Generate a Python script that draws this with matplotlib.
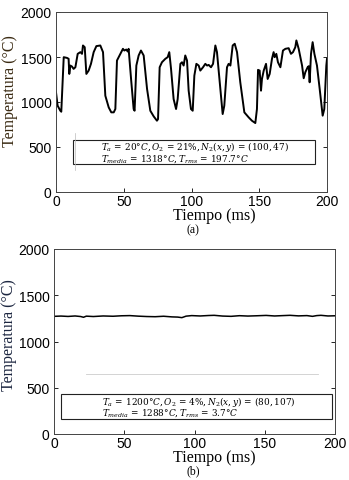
import matplotlib.pyplot as plt
import numpy as np

# panel (a): turbulent signal
t_a = [0, 1.2, 3.2, 3.9, 5.7, 8.1, 9.3, 9.8, 10.6, 11.8, 13, 14.3, 16, 18, 19.2, 19.9,
       21.2, 22.4, 24.1, 25.8, 27.8, 29.8, 32.7, 34.7, 36.4, 38.9, 40.8, 42.6, 43.8, 45,
       47.5, 49.4, 50.4, 51.9, 52.9, 53.6, 55.4, 57.3, 58, 59.3, 61, 62.7, 64.7, 67.2,
       69.6, 72.1, 74.5, 75.3, 76.5, 78.2, 80.7, 82.4, 83.6, 84.9, 86.8, 88.6, 89.8,
       91.8, 93, 94.2, 95.4, 96.7, 97.9, 99.6, 100.9, 102.1, 103.6, 105.3, 106.5, 108.5,
       110.2, 111.5, 112.7, 114.4, 115.9, 117.6, 118.8, 121.3, 123, 124.2, 126.2, 127.4,
       128.7, 130.4, 131.9, 133.6, 136, 139, 142.2, 144.6, 147.1, 148.3, 149.1, 150.3,
       151.3, 152, 153.3, 155, 156.2, 157.7, 159.4, 160.6, 161.4, 162.6, 163.8, 165.6,
       167.5, 169.3, 171.7, 173.4, 174.9, 176.6, 177.4, 179.1, 181.6, 182.8, 184, 185.7,
       186.5, 187.2, 188.2, 189.4, 190.7, 192.6, 194.6, 196.8, 198, 199.5, 200]
temp_a = [1108, 959, 903, 892, 1498, 1490, 1480, 1312, 1405, 1394, 1368, 1386, 1535, 1554,
          1535, 1628, 1609, 1312, 1349, 1424, 1554, 1621, 1628, 1554, 1070, 940, 885, 885,
          922, 1461, 1535, 1591, 1572, 1583, 1561, 1591, 1256, 922, 903, 1405, 1517, 1572,
          1517, 1145, 903, 840, 792, 810, 1386, 1442, 1480, 1498, 1554, 1368, 1033, 922,
          1033, 1424, 1442, 1405, 1517, 1461, 1126, 922, 903, 1293, 1424, 1405, 1349, 1386,
          1424, 1405, 1412, 1386, 1424, 1628, 1554, 1145, 866, 959, 1386, 1424, 1405, 1628,
          1647, 1554, 1219, 885, 829, 792, 766, 922, 1357, 1349, 1126, 1256, 1349, 1424,
          1256, 1312, 1480, 1554, 1498, 1535, 1442, 1386, 1572, 1591, 1598, 1535, 1554,
          1609, 1684, 1591, 1405, 1264, 1331, 1386, 1398, 1219, 1535, 1665, 1535, 1405,
          1145, 848, 922, 1405, 1480]

# panel (b): nearly flat signal
t_b = [0, 5, 10, 15, 19, 21, 23, 28, 35, 42, 48, 54, 60, 66, 72, 78, 84, 88, 91, 94, 98,
       104, 110, 114, 120, 126, 132, 138, 144, 151, 157, 163, 168, 174, 180, 184, 187, 190,
       195, 200]
temp_b = [1272, 1275, 1271, 1276, 1270, 1262, 1274, 1270, 1276, 1273, 1278, 1280, 1274,
          1270, 1268, 1273, 1266, 1264, 1258, 1274, 1280, 1276, 1281, 1283, 1275, 1272,
          1279, 1275, 1278, 1282, 1276, 1280, 1283, 1277, 1280, 1272, 1280, 1283, 1276, 1278]

yticks = [0, 500, 1000, 1500, 2000]
xticks = [0, 50, 100, 150, 200]
note_a = [r"$T_a\,=\,20°C,O_2\,=\,21\%,N_2(x,y)\,=\,(100,47)$",
          r"$T_{media}\,=\,1318°C,T_{rms}\,=\,197.7°C$"]
note_b = [r"$T_a\,=\,1200°C,O_2\,=\,4\%,N_2(x,y)\,=\,(80,107)$",
          r"$T_{media}\,=\,1288°C,T_{rms}\,=\,3.7°C$"]

plt.rcParams["mathtext.fontset"] = "dejavuserif"
tick_font = "Liberation Sans"
label_font = "Liberation Serif"

fig = plt.figure(figsize=(3.49, 4.81), dpi=100)
W, H = 349, 481


def make_axes(left, top, right, bottom):
    return fig.add_axes([left / W, 1 - bottom / H, (right - left) / W, (bottom - top) / H])


def fig_to_axes(ax, x, y):
    # figure pixel position -> axes fraction, for label placement
    p = ax.get_position()
    return (x / W - p.x0) / p.width, (1 - y / H - p.y0) / p.height


ax1 = make_axes(56, 13, 327, 193)
ax2 = make_axes(54, 250, 335, 435)

panels = [(ax1, t_a, temp_a, "#3a2a12", 216, (10, 91), 1.4),
          (ax2, t_b, temp_b, "#1c2640", 458, (9, 335), 1.1)]
for ax, t, y, lab_col, xlab_y, ylab_xy, lw in panels:
    ax.plot(t, y, color="black", lw=lw)
    ax.set_xlim(0, 200)
    ax.set_ylim(0, 2000)
    ax.set_xticks(xticks)
    ax.set_yticks(yticks)
    ax.tick_params(direction="in", length=3, width=0.6, labelsize=10,
                   right=True, top=False)
    ax.tick_params(axis="x", pad=1.5)
    ax.tick_params(axis="y", pad=3.2)
    for lb in ax.get_xticklabels() + ax.get_yticklabels():
        lb.set_fontfamily(tick_font)
    for s in ax.spines.values():
        s.set_linewidth(0.7)
        s.set_color("#444444")
    ax.set_xlabel("Tiempo (ms)", family=label_font, fontsize=11.5)
    ax.set_ylabel("Temperatura (°C)", family=label_font, fontsize=11.5, color=lab_col)
    ax.xaxis.set_label_coords(*fig_to_axes(ax, 214, xlab_y))
    ax.xaxis.label.set_va("center")
    ax.yaxis.set_label_coords(*fig_to_axes(ax, *ylab_xy))
    ax.yaxis.label.set_va("center")

# note boxes
ax1.add_patch(plt.Rectangle((12.3, 316), 178.7, 264, fill=False, lw=0.8,
                            edgecolor="#222222"))
ax1.plot([14, 14], [250, 660], color="#bbbbbb", lw=0.5)
ax1.text(33, 510, note_a[0], fontsize=6.4, va="center")
ax1.text(33, 380, note_a[1], fontsize=6.4, va="center")

ax2.add_patch(plt.Rectangle((4.8, 162), 192.8, 270, fill=False, lw=0.8,
                            edgecolor="#222222"))
ax2.plot([22.8, 188], [649, 649], color="#cccccc", lw=0.6)
ax2.text(34, 360, note_b[0], fontsize=6.4, va="center")
ax2.text(34, 235, note_b[1], fontsize=6.4, va="center")

fig.text(193 / W, 1 - 230 / H, "(a)", family=label_font, fontsize=8.5, ha="center",
         va="center")
fig.text(193 / W, 1 - 471 / H, "(b)", family=label_font, fontsize=8.5, ha="center",
         va="center")

fig.savefig("out.png", dpi=100)
